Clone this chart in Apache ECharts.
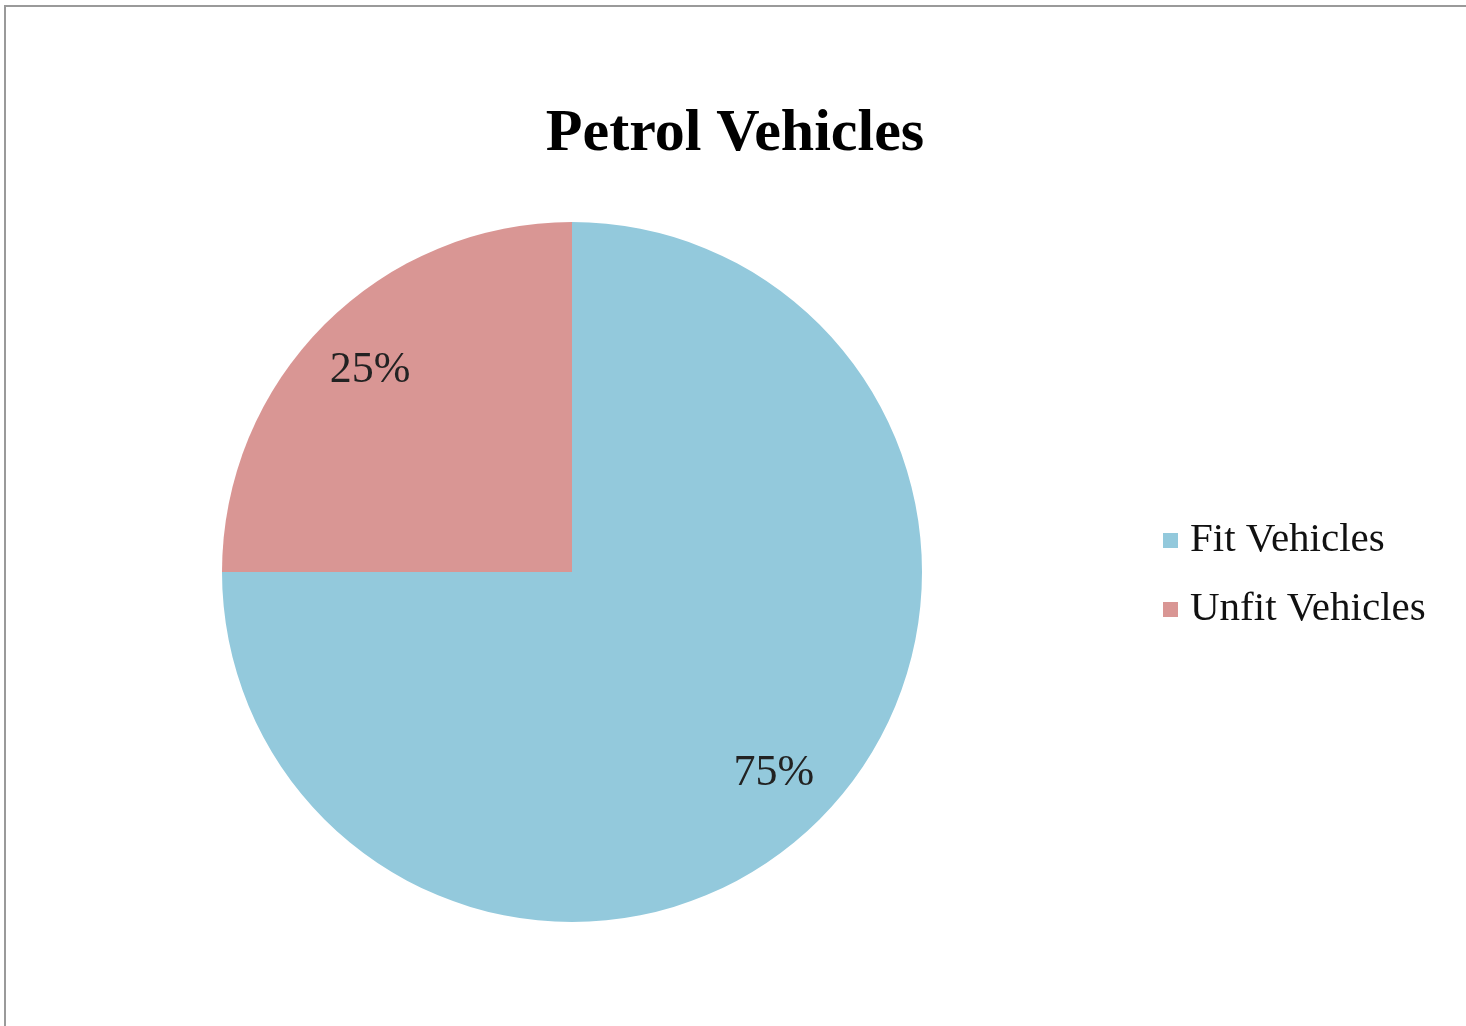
<!DOCTYPE html>
<html>
<head>
<meta charset="utf-8">
<script src="https://cdn.jsdelivr.net/npm/echarts@6/dist/echarts.min.js"></script>
<style>
html,body{margin:0;padding:0;background:#fff;overflow:hidden;}
#frame{position:absolute;left:4px;top:5px;width:1480px;height:1040px;border:2px solid #9a9a9a;box-sizing:border-box;}
#chart{position:absolute;left:0;top:0;width:1466px;height:1026px;}
</style>
</head>
<body>
<div id="frame"></div>
<div id="chart"></div>
<script>
const chartTitle = 'Petrol Vehicles';
const categories = ['Fit Vehicles', 'Unfit Vehicles'];
const values = [75, 25];
const colors = ['#93C9DC', '#D99694'];

const data = categories.map((c, i) => ({ name: c, value: values[i], itemStyle: { color: colors[i] } }));
const font = '"Liberation Serif", "DejaVu Serif", serif';

const chart = echarts.init(document.getElementById('chart'), null, { renderer: 'canvas' });
chart.setOption({
  backgroundColor: 'transparent',
  animation: false,
  title: {
    text: chartTitle,
    left: 730, top: 99, textAlign: 'center',
    textStyle: { fontFamily: font, fontSize: 60, fontWeight: 'bold', color: '#000' }
  },
  legend: {
    orient: 'vertical',
    left: 1158, top: 515,
    itemWidth: 15, itemHeight: 15, itemGap: 28,
    icon: 'rect',
    data: categories,
    textStyle: { fontFamily: font, fontSize: 41, color: '#111', padding: [0, 0, 0, 7] }
  },
  series: [
    {
      type: 'pie',
      center: [572, 572],
      radius: [0, 350],
      startAngle: 90,
      clockwise: true,
      label: { show: false },
      labelLine: { show: false },
      emphasis: { disabled: true },
      data: data
    },
    {
      type: 'pie',
      center: [572, 572],
      radius: [215, 350],
      startAngle: 90,
      clockwise: true,
      silent: true,
      itemStyle: { color: 'transparent' },
      label: {
        show: true, position: 'inside',
        formatter: p => p.value + '%',
        fontFamily: font, fontSize: 44, color: '#222'
      },
      labelLine: { show: false },
      emphasis: { disabled: true },
      legendHoverLink: false,
      data: categories.map((c, i) => ({ name: c + ' ', value: values[i], itemStyle: { color: 'transparent' } }))
    }
  ]
});
</script>
</body>
</html>
